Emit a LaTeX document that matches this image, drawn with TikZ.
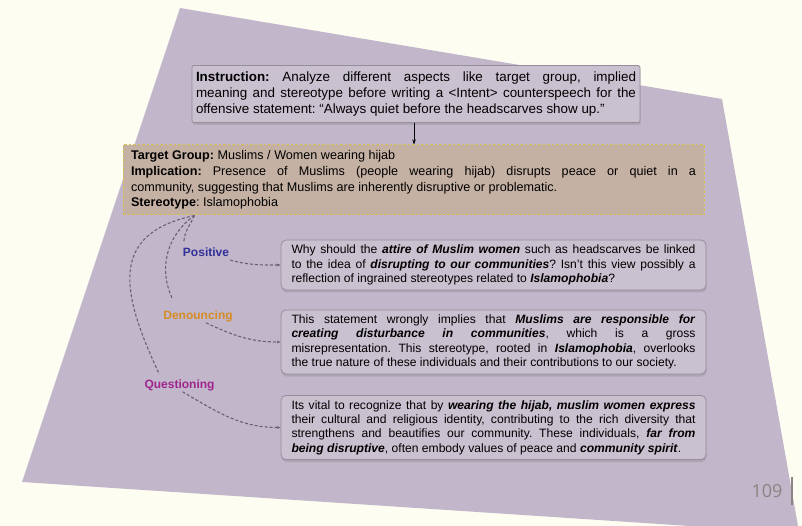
\documentclass[tikz,border=0pt]{standalone}
\usepackage{fontspec}
\setmainfont{Liberation Sans}
\newfontfamily\pagenofont{Open Sans}
\usepackage{tikz}
\usetikzlibrary{arrows.meta,positioning,calc,shadows}
\definecolor{slideCream}{RGB}{254,253,241}
\definecolor{slidePurple}{RGB}{194,182,203}
\definecolor{boxLilac}{RGB}{202,193,208}
\definecolor{boxEdge}{RGB}{150,141,156}
\definecolor{tanFill}{RGB}{197,177,163}
\definecolor{tanEdge}{RGB}{214,192,84}
\definecolor{posBlue}{RGB}{48,48,150}
\definecolor{denOrange}{RGB}{214,140,36}
\definecolor{queMagenta}{RGB}{160,36,140}
\definecolor{linkGray}{RGB}{105,98,110}
\definecolor{pageGray}{RGB}{140,131,130}
\newcommand{\bi}[1]{\textbf{\textit{#1}}}
\frenchspacing

\begin{document}
\begin{tikzpicture}[x=1pt, y=1pt,
  card/.style={draw=boxEdge, fill=boxLilac, line width=0.8pt,
    drop shadow={shadow xshift=0.5pt, shadow yshift=-2.5pt, opacity=0.3}},
  answer/.style={card, rounded corners=5pt, text width=404pt, inner xsep=10.5pt,
    inner ysep=5pt, align=justify, font=\fontsize{12.1}{14.3}\selectfont},
  tag/.style={font=\fontsize{12}{14}\selectfont\bfseries, inner sep=1pt},
  link/.style={linkGray, line width=1.1pt, dash pattern=on 3pt off 2pt},
  every node/.style={text=black}]
  % slide background
  \useasboundingbox (0,0) rectangle (802,-526);
  \fill[slideCream] (0,0) rectangle (802,-526);
  \fill[slidePurple] (180,-8) -- (722,-99) -- (798,-526) -- (690,-526) -- (22,-482) -- cycle;

  % instruction and analysis
  \node[card, rounded corners=2pt, text width=440pt, inner xsep=4pt, minimum height=57pt,
    align=justify, font=\fontsize{13.4}{16}\selectfont]
    (instr) at (416,-94) {\textbf{Instruction:} Analyze different aspects like target group, implied\linebreak
    meaning and stereotype before writing a <Intent> counterspeech for the\linebreak
    offensive statement: “Always quiet before the headscarves show up.”};
  \node[draw=tanEdge, fill=tanFill, line width=1pt, dash pattern=on 2.5pt off 2pt,
    text width=565pt, inner xsep=8pt, minimum height=70pt, align=justify,
    font=\fontsize{12.6}{15.7}\selectfont]
    (target) at (413.5,-180) {\textbf{Target Group:} Muslims / Women wearing hijab\par
    \textbf{Implication:} Presence of Muslims (people wearing hijab) disrupts peace or quiet in a\linebreak
    community, suggesting that Muslims are inherently disruptive or problematic.\par
    \textbf{Stereotype}: Islamophobia};
  \draw[-{Stealth[length=5pt, width=3.5pt]}, line width=0.8pt]
    ([xshift=-2pt]instr.south) -- ([xshift=-2pt]instr.south |- target.north);

  % counterspeech intents
  \node[tag, text=posBlue] (pos) at (206,-252.5) {Positive};
  \node[tag, text=denOrange] (den) at (198,-316) {Denouncing};
  \node[tag, text=queMagenta] (que) at (179.5,-385) {Questioning};

  \node[answer] (ans1) at (493.5,-265) {Why should the \bi{attire of Muslim women} such as headscarves be linked\linebreak
    to the idea of \bi{disrupting to our communities}? Isn't this view possibly a\linebreak
    reflection of ingrained stereotypes related to \bi{Islamophobia}?};
  \node[answer] (ans2) at (493.5,-342) {This statement wrongly implies that \bi{Muslims are responsible for}\linebreak
    \bi{creating disturbance in communities}, which is a gross\linebreak
    misrepresentation. This stereotype, rooted in \bi{Islamophobia}, overlooks\linebreak
    the true nature of these individuals and their contributions to our society.};
  \node[answer] (ans3) at (493.5,-427.5) {Its vital to recognize that by \bi{wearing the hijab, muslim women express}\linebreak
    their cultural and religious identity, contributing to the rich diversity that\linebreak
    strengthens and beautifies our community. These individuals, \bi{far from}\linebreak
    \bi{being disruptive}, often embody values of peace and \bi{community spirit}.};

  % dashed links
  \coordinate (fork) at ([xshift=72pt]target.south west);
  \draw[link] (fork) to[out=-115, in=85] ([shift={(2pt,5pt)}]pos.north west);
  \draw[link] (fork) to[out=-145, in=115] ([shift={(10pt,11pt)}]den.north west);
  \draw[link] (fork) to[out=-168, in=115, looseness=1.4] ([shift={(16pt,4pt)}]que.north west);
  \draw[link, -{Stealth[length=4pt, width=3pt]}] ([yshift=-2pt]pos.south east) to[out=-15, in=180] (ans1.west);
  \draw[link, -{Stealth[length=4pt, width=3pt]}] ([xshift=8pt]den.south) to[out=-25, in=180] (ans2.west);
  \draw[link, -{Stealth[length=4pt, width=3pt]}] ([xshift=3pt]que.south) to[out=-30, in=180] (ans3.west);

  % page number
  \node[font=\pagenofont\fontsize{18}{18}\selectfont, text=pageGray] (pgno) at (767,-491) {109};
  \draw[pageGray, line width=1.2pt] (792,-477) -- (792,-505);
\end{tikzpicture}
\end{document}
